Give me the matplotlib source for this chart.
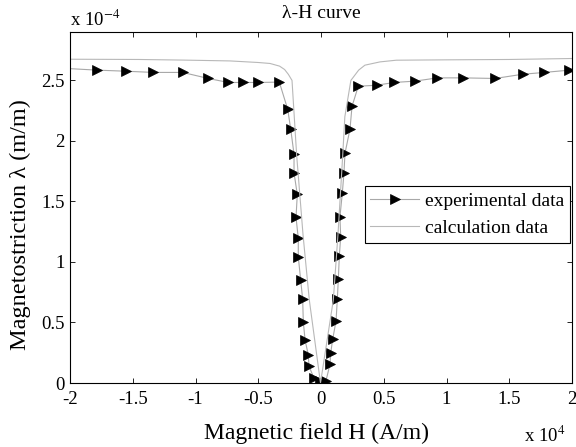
import matplotlib
matplotlib.use('Agg')
import matplotlib.pyplot as plt

plt.rcParams['font.family'] = ['Liberation Serif', 'DejaVu Serif']
plt.rcParams['mathtext.fontset'] = 'stix'

# experimental points: H in 1e4 A/m, lambda in 1e-4 m/m
exp_H = [-2.05, -1.787, -1.554, -1.336, -1.102, -0.898, -0.739, -0.619, -0.50, -0.332,
         -0.265, -0.241, -0.215, -0.215, -0.189, -0.199, -0.181, -0.181, -0.162, -0.146,
         -0.141, -0.127, -0.101, -0.096, -0.056, -0.008,
         0.040, 0.072, 0.077, 0.093, 0.120, 0.130, 0.138, 0.146, 0.157, 0.151,
         0.170, 0.183, 0.191, 0.231, 0.247, 0.297, 0.443, 0.582, 0.749, 0.927,
         1.134, 1.386, 1.607, 1.780, 1.980]
exp_lam = [2.600, 2.585, 2.576, 2.566, 2.566, 2.516, 2.483, 2.483, 2.483, 2.486,
           2.260, 2.095, 1.891, 1.737, 1.558, 1.368, 1.195, 1.043, 0.851, 0.691,
           0.506, 0.355, 0.231, 0.140, 0.039, 0.019,
           0.019, 0.157, 0.245, 0.361, 0.514, 0.691, 0.856, 1.049, 1.208, 1.373,
           1.571, 1.737, 1.897, 2.097, 2.285, 2.452, 2.460, 2.483, 2.494, 2.521,
           2.521, 2.516, 2.551, 2.566, 2.585]

# calculated curve
calc_H = [-2.0, -1.45, -1.1, -0.725, -0.5, -0.406, -0.33, -0.29, -0.26, -0.231,
          -0.194, -0.143, -0.093, -0.004,
          0.098, 0.135, 0.173, 0.19, 0.238, 0.30, 0.35, 0.47, 0.6, 1.0, 1.5, 2.0]
calc_lam = [2.675, 2.673, 2.668, 2.661, 2.648, 2.640, 2.618, 2.590, 2.550, 2.500,
            1.883, 1.222, 0.685, 0.0,
            0.685, 1.222, 1.880, 2.200, 2.500, 2.585, 2.626, 2.653, 2.667, 2.670, 2.673, 2.681]

x_ticks = [-2, -1.5, -1, -0.5, 0, 0.5, 1, 1.5, 2]
x_ticklabels = ['-2', '-1.5', '-1', '-0.5', '0', '0.5', '1', '1.5', '2']
y_ticks = [0, 0.5, 1, 1.5, 2, 2.5]
y_ticklabels = ['0', '0.5', '1', '1.5', '2', '2.5']

fig = plt.figure(figsize=(5.76, 4.47), dpi=100)
ax = fig.add_axes([70/576, 1-383/447, 502/576, 351/447])

ax.plot(exp_H, exp_lam, color='#a8a8a8', lw=0.8, marker='>', ms=6.5,
        mfc='black', mec='black', mew=0.5, label='experimental data')
ax.plot(calc_H, calc_lam, color='#b8b8b8', lw=0.8, label='calculation data')

ax.set_xlim(-2, 2)
ax.set_ylim(0, 2.9)
ax.set_xticks(x_ticks)
ax.set_xticklabels(x_ticklabels)
ax.set_yticks(y_ticks)
ax.set_yticklabels(y_ticklabels)
ax.tick_params(direction='in', length=3.6, width=0.6, top=True, right=True,
               labelsize=13.5, pad=4, colors='black')
ax.tick_params(axis='x', pad=6)
for s in ax.spines.values():
    s.set_linewidth(0.8)

ax.set_title('λ-H curve', fontsize=14, pad=10)
ax.text(0, 1.005, 'x 10$^{-4}$', transform=ax.transAxes, fontsize=13.5,
        ha='left', va='bottom')
fig.text(565/576, 1-442/447, 'x 10$^{4}$', fontsize=13.5, ha='right', va='baseline')
fig.text(316/576, 1-439/447, 'Magnetic field H (A/m)', fontsize=17,
         ha='center', va='baseline')
fig.text(20/576, 1-225/447, 'Magnetostriction λ (m/m)', fontsize=17.5,
         rotation=90, ha='center', va='center')

leg = ax.legend(loc='upper right', bbox_to_anchor=(0.996, 0.561), borderaxespad=0,
                fontsize=14, numpoints=1, handlelength=2.5, handletextpad=0.3,
                borderpad=0.3, labelspacing=0.5, fancybox=False, framealpha=1)
leg.get_frame().set_edgecolor('black')
leg.get_frame().set_linewidth(0.8)

fig.savefig('out.png', dpi=100)
